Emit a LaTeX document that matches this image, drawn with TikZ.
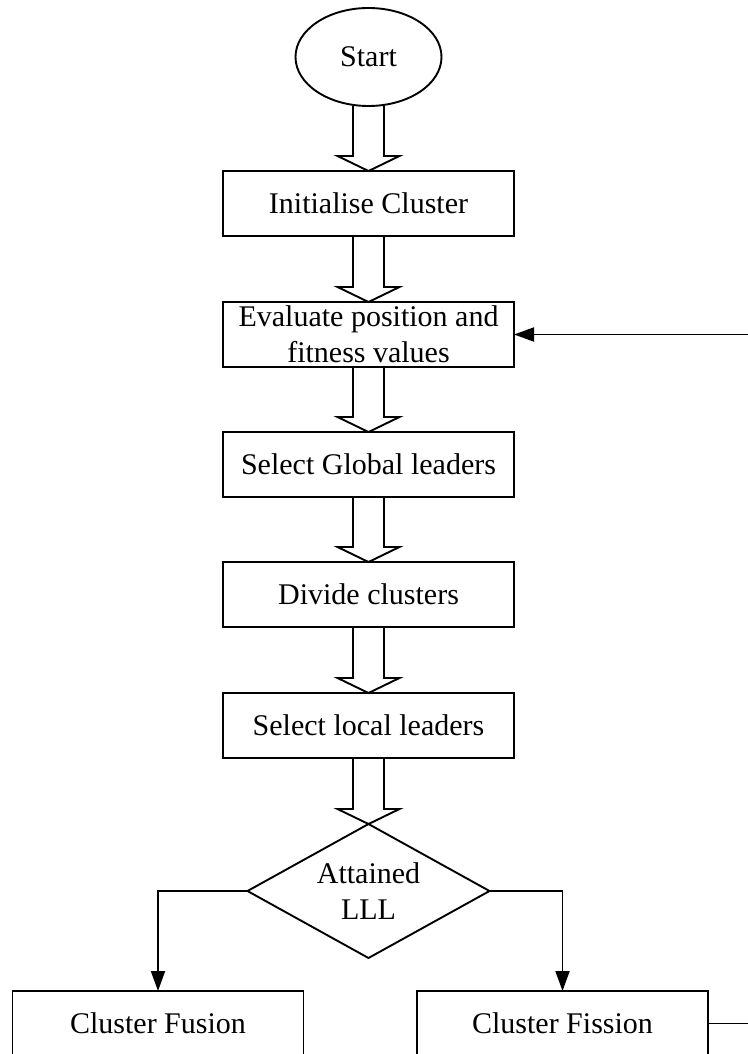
\documentclass[tikz,border=0pt]{standalone}
\usepackage{fontspec}
\setmainfont{Liberation Serif}
\usetikzlibrary{shapes.geometric,arrows.meta,positioning,calc}
\tikzset{
    flow-box/.style = {draw, rectangle, minimum width=145.5pt, minimum height=32.5pt, inner xsep=2pt, inner ysep=0pt, outer sep=0pt, align=center},
    start-ellipse/.style = {draw, ellipse, minimum width=73pt, minimum height=49pt, inner sep=0pt, outer sep=0pt},
    decision-diamond/.style = {draw, diamond, aspect=1.8, minimum width=121pt, minimum height=67pt, inner sep=1pt, outer sep=0pt, align=center},
    fat-arrow/.style = {draw, line join=miter},
    line-arrow/.style = {-{Triangle[length=10pt,width=7pt]}},
}
% hollow block arrow from one node down to the next
\newcommand{\fatarrow}[2]{%
  \draw[fat-arrow] ($(#1.south)+(-15.5,0)$) -- ($(#2.north)+(-15.5,15)$) -- ($(#2.north)+(-31,15)$)
    -- (#2.north) -- ($(#2.north)+(31,15)$) -- ($(#2.north)+(15.5,15)$) -- ($(#1.south)+(15.5,0)$);}

\begin{document}
\begin{tikzpicture}[x=0.5pt, y=0.5pt, line width=0.95pt, font=\fontsize{15pt}{18pt}\selectfont]
\path[use as bounding box, fill=white] (0,0) rectangle (748,-1054);
\clip (0,0) rectangle (748,-1054);

\node[start-ellipse] (start) at (368.5,-57) {Start};
\node[flow-box, below=32.5pt of start] (init) {Initialise Cluster};
\node[flow-box, below=33pt of init] (eval) {Evaluate position and\\fitness values};
\node[flow-box, below=32.5pt of eval] (global) {Select Global leaders};
\node[flow-box, below=32.5pt of global] (divide) {Divide clusters};
\node[flow-box, below=33pt of divide] (local) {Select local leaders};
\node[decision-diamond, below=33pt of local] (lll) {Attained\\LLL};
\node[flow-box] (fusion) at (158,-1023.5) {Cluster Fusion};
\node[flow-box] (fission) at (562.5,-1023.5) {Cluster Fission};

\fatarrow{start}{init}
\fatarrow{init}{eval}
\fatarrow{eval}{global}
\fatarrow{global}{divide}
\fatarrow{divide}{local}
\fatarrow{local}{lll}

\draw[line-arrow] (lll.west) -| (fusion.north);
\draw[line-arrow] (lll.east) -| (fission.north);

% loop back to the evaluation step
\coordinate (loop-out) at (748,-1023.5);
\coordinate (loop-in) at (eval.east -| loop-out);
\draw (fission.east) -- (loop-out);
\draw[line-arrow] (loop-in) -- (eval.east);
\end{tikzpicture}
\end{document}
